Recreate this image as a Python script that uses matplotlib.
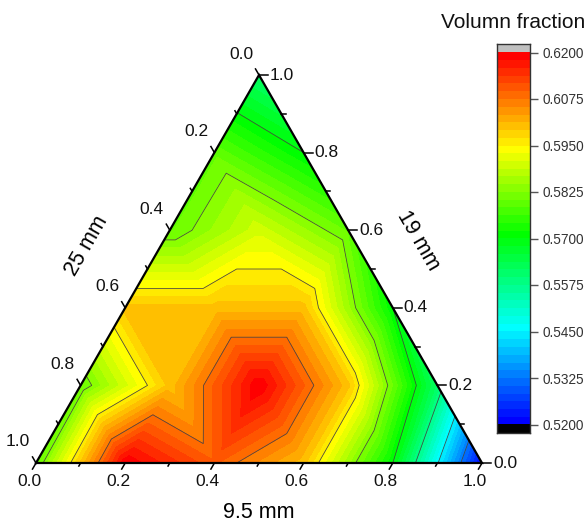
import matplotlib
matplotlib.use('Agg')
import matplotlib.pyplot as plt
import matplotlib.tri as mtri
import numpy as np

plt.rcParams['font.family'] = ['Liberation Sans', 'DejaVu Sans']

# ternary lattice: fractions of 9.5 mm and 19 mm (25 mm is the rest)
frac_95 = [0.0, 0.2, 0.4, 0.6, 0.8, 1.0,
           0.0, 0.2, 0.4, 0.6, 0.8,
           0.0, 0.2, 0.4, 0.6,
           0.0, 0.2, 0.4,
           0.0, 0.2,
           0.0]
frac_19 = [0.0, 0.0, 0.0, 0.0, 0.0, 0.0,
           0.2, 0.2, 0.2, 0.2, 0.2,
           0.4, 0.4, 0.4, 0.4,
           0.6, 0.6, 0.6,
           0.8, 0.8,
           1.0]
volume = [0.5793, 0.6198, 0.6100, 0.6000, 0.5700, 0.5208,
          0.5800, 0.6000, 0.6198, 0.5998, 0.5608,
          0.6000, 0.6000, 0.6000, 0.5700,
          0.5800, 0.5900, 0.5800,
          0.5798, 0.5700,
          0.5607]

level_min = 0.52
level_max = 0.62
n_bands = 48
line_levels = [0.5325, 0.5450, 0.5575, 0.5700, 0.5825, 0.5950, 0.6075]
bar_ticks = [0.52, 0.5325, 0.545, 0.5575, 0.57, 0.5825, 0.595, 0.6075, 0.62]
axis_ticks = [0.0, 0.2, 0.4, 0.6, 0.8, 1.0]
minor_ticks = [0.1, 0.3, 0.5, 0.7, 0.9]

W, H = 587, 523
px_x = 1 / 446
px_y = 1 / 388

# rainbow bands, pure colours at the anchor steps
anchors = [0, 12, 24, 35, 47]
steps = np.arange(n_bands)
red = np.interp(steps, anchors, [0, 0, 0, 1, 1])
green = np.interp(steps, anchors, [0, 1, 1, 1, 0])
blue = np.interp(steps, anchors, [1, 1, 0, 0, 0])
band_colors = list(zip(red, green, blue))
levels = np.linspace(level_min, level_max, n_bands + 1)

fig = plt.figure(figsize=(W / 100, H / 100), dpi=100)
ax = fig.add_axes([36 / W, (H - 463) / H, 446 / W, 388 / H])

a = np.array(frac_95)
b = np.array(frac_19)
x = a + b / 2
triang = mtri.Triangulation(x, b)

ax.tricontourf(triang, volume, levels=levels, colors=band_colors)
ax.tricontour(triang, volume, levels=line_levels, colors='#444444', linewidths=0.55)

ax.plot([0, 1, 0.5, 0], [0, 0, 1, 0], color='black', lw=1.6, clip_on=False, solid_joinstyle='miter', zorder=5)


def tick(x0, y0, dx, dy, length):
    ax.plot([x0, x0 + dx * length * px_x], [y0, y0 + dy * length * px_y],
            color='black', lw=1.1, clip_on=False, zorder=4)


def label(x0, y0, dx, dy, s):
    ax.text(x0 + dx * px_x, y0 + dy * px_y, s, fontsize=12.5, ha='center', va='center', color='#111111')


# bottom axis 9.5 mm, right axis 19 mm, left axis 25 mm
for v in axis_ticks:
    tick(v, 0, -0.5, -0.866, 7)
    label(v, 0, -7, -18, f'{v:.1f}')
    tick(1 - v / 2, v, 1, 0, 9)
    label(1 - v / 2, v, 23, 0, f'{v:.1f}')
    tick((1 - v) / 2, 1 - v, -0.5, 0.866, 7)
    label((1 - v) / 2, 1 - v, -18, 21, f'{v:.1f}')
for v in minor_ticks:
    tick(v, 0, -0.5, -0.866, 3.5)
    tick(1 - v / 2, v, 1, 0, 4.5)
    tick((1 - v) / 2, 1 - v, -0.5, 0.866, 3.5)

ax.text(0.5, -49 * px_y, '9.5 mm', fontsize=15.5, ha='center', va='center')
ax.text(0.1135, 0.559, '25 mm', fontsize=15.5, ha='center', va='center', rotation=60)
ax.text(0.857, 0.572, '19 mm', fontsize=15.5, ha='center', va='center', rotation=-60)

ax.set_xlim(0, 1)
ax.set_ylim(0, 1)
ax.axis('off')

# colour scale, with the grey and black end boxes
ext = (level_max - level_min) * 8.5 / 372
cax = fig.add_axes([496.5 / W, (H - 433) / H, 33 / W, 389 / H])
cax.bar(0.5, np.diff(levels), bottom=levels[:-1], width=1, color=band_colors, linewidth=0)
cax.bar(0.5, ext, bottom=level_max, width=1, color='#c0c0c0', linewidth=0)
cax.bar(0.5, ext, bottom=level_min - ext, width=1, color='black', linewidth=0)
cax.set_xlim(0, 1)
cax.set_ylim(level_min - ext, level_max + ext)
cax.set_xticks([])
cax.yaxis.tick_right()
cax.set_yticks(bar_ticks)
cax.set_yticklabels([f'{v:.4f}' for v in bar_ticks], fontsize=9.8, color='#333333')
cax.tick_params(axis='y', length=6, width=1, color='#555555', pad=3.5)
for side in cax.spines.values():
    side.set_color('#333333')
    side.set_linewidth(1)

fig.text(513 / W, 1 - 22 / H, 'Volumn fraction', fontsize=15, ha='center', va='center', color='#111111')

fig.savefig('out.png', dpi=100)
